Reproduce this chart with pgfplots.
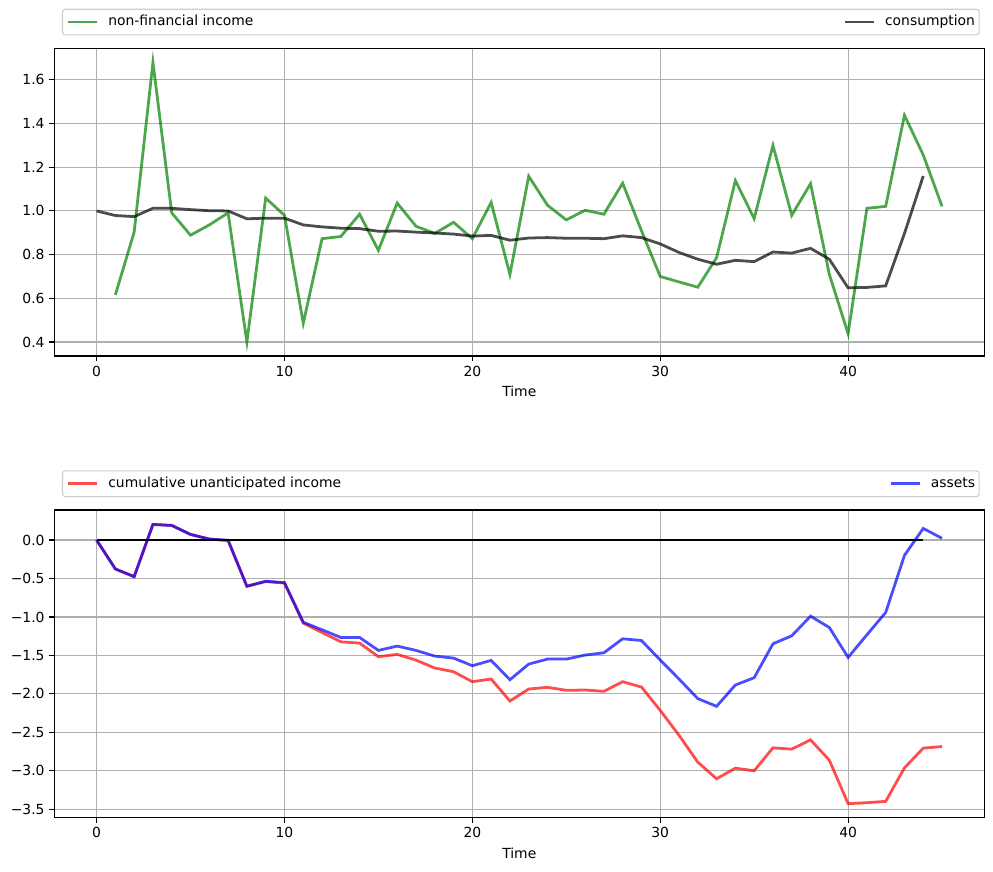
\documentclass[border=0pt]{standalone}
\usepackage{fontspec}
\setmainfont{DejaVu Sans}
\usepackage{pgfplots}
\usepackage{pgfplotstable}
\pgfplotsset{compat=1.18}
\definecolor{gridgray}{HTML}{B0B0B0}
\definecolor{legframe}{HTML}{CCCCCC}
\newlength\wcons
\newlength\wassets

\pgfplotstableread{
t inc
1 0.616
2 0.903
3 1.680
4 0.991
5 0.889
6 0.936
7 0.991
8 0.400
9 1.059
10 0.980
11 0.486
12 0.873
13 0.883
14 0.985
15 0.820
16 1.036
17 0.930
18 0.897
19 0.948
20 0.873
21 1.039
22 0.709
23 1.159
24 1.026
25 0.959
26 1.003
27 0.985
28 1.127
29 0.910
30 0.700
31 0.675
32 0.651
33 0.786
34 1.139
35 0.965
36 1.300
37 0.980
38 1.125
39 0.710
40 0.438
41 1.012
42 1.021
43 1.438
44 1.256
45 1.021
}\incometable

\pgfplotstableread{
t cons
0 1.000
1 0.979
2 0.974
3 1.012
4 1.012
5 1.006
6 1.001
7 1.000
8 0.964
9 0.967
10 0.967
11 0.936
12 0.927
13 0.921
14 0.919
15 0.907
16 0.908
17 0.903
18 0.899
19 0.894
20 0.885
21 0.888
22 0.866
23 0.876
24 0.878
25 0.875
26 0.875
27 0.873
28 0.886
29 0.878
30 0.849
31 0.810
32 0.779
33 0.756
34 0.774
35 0.768
36 0.812
37 0.807
38 0.829
39 0.779
40 0.648
41 0.650
42 0.657
43 0.897
44 1.160
}\constable

\pgfplotstableread{
t cum assets
0 0 0
1 -0.376 -0.376
2 -0.476 -0.476
3 0.203 0.203
4 0.190 0.190
5 0.073 0.073
6 0.013 0.013
7 -0.004 -0.004
8 -0.601 -0.601
9 -0.540 -0.536
10 -0.560 -0.553
11 -1.081 -1.068
12 -1.202 -1.167
13 -1.323 -1.267
14 -1.340 -1.267
15 -1.517 -1.435
16 -1.487 -1.379
17 -1.561 -1.435
18 -1.664 -1.509
19 -1.712 -1.535
20 -1.842 -1.634
21 -1.807 -1.565
22 -2.093 -1.816
23 -1.937 -1.613
24 -1.915 -1.548
25 -1.954 -1.548
26 -1.950 -1.496
27 -1.967 -1.466
28 -1.842 -1.284
29 -1.911 -1.306
30 -2.215 -1.560
31 -2.538 -1.807
32 -2.888 -2.062
33 -3.104 -2.162
34 -2.966 -1.885
35 -3.000 -1.790
36 -2.702 -1.349
37 -2.719 -1.245
38 -2.598 -0.990
39 -2.862 -1.137
40 -3.428 -1.526
41 -3.415 -1.232
42 -3.398 -0.942
43 -2.962 -0.199
44 -2.706 0.151
45 -2.685 0.022
}\bottomtable

\pgfplotstableread{
t z
0 0
44 0
}\zerotable

\pgfplotsset{
  myaxis/.style={
    scale only axis, width=669.6pt, height=221.5pt,
    xmin=-2.25, xmax=47.25,
    xtick={0,10,20,30,40},
    grid=major,
    major grid style={gridgray, line width=0.8pt},
    axis line style={line width=0.8pt},
    tick style={black, line width=0.8pt},
    major tick length=3.5pt,
    tick align=outside, xtick pos=bottom, ytick pos=left,
    tick label style={font=\fontsize{10}{12}\selectfont},
    /pgf/number format/assume math mode=true,
    xlabel={Time},
    label style={font=\fontsize{10}{12}\selectfont},
    legend columns=2,
    legend style={at={(0,1)}, anchor=south west, xshift=5.5pt, yshift=9.3pt,
      draw=legframe, line width=0.8pt, rounded corners=2pt,
      inner xsep=3pt, inner ysep=4pt,
      font=\fontsize{10}{12}\selectfont,
      nodes={inner sep=0pt, text height=8pt, text depth=2.5pt},
      /tikz/every odd column/.append style={column sep=7pt}},
    legend image code/.code={\draw[#1, line width=2pt] (0pt,0pt) -- (21pt,0pt);},
  }
}

\begin{document}
\settowidth{\wcons}{\fontsize{10}{12}\selectfont consumption}%
\settowidth{\wassets}{\fontsize{10}{12}\selectfont assets}%
\begin{tikzpicture}
\useasboundingbox (0,0) rectangle (714.96pt,627.84pt);
\begin{axis}[myaxis, at={(39.1pt,371.5pt)}, anchor=south west,
  ymin=0.336, ymax=1.744,
  ytick={0.4,0.6,0.8,1.0,1.2,1.4,1.6},
  yticklabels={0.4,0.6,0.8,1.0,1.2,1.4,1.6}]
\addplot[green!50!black, opacity=0.7, line width=2pt] table[x=t, y=inc] {\incometable};
\addlegendentry{\makebox[\dimexpr 594pt-\wcons\relax][l]{non-financial income}}
\addplot[black, opacity=0.7, line width=2pt] table[x=t, y=cons] {\constable};
\addlegendentry{consumption}
\end{axis}
\begin{axis}[myaxis, at={(39.1pt,39.1pt)}, anchor=south west,
  ymin=-3.61, ymax=0.39,
  ytick={-3.5,-3.0,-2.5,-2.0,-1.5,-1.0,-0.5,0.0},
  yticklabels={−3.5,−3.0,−2.5,−2.0,−1.5,−1.0,−0.5,0.0}]
\addplot[red, opacity=0.7, line width=2pt] table[x=t, y=cum] {\bottomtable};
\addlegendentry{\makebox[\dimexpr 594pt-\wassets\relax][l]{cumulative unanticipated income}}
\addplot[blue, opacity=0.7, line width=2pt] table[x=t, y=assets] {\bottomtable};
\addlegendentry{assets}
\addplot[black, line width=1.5pt, forget plot] table[x=t, y=z] {\zerotable};
\end{axis}
\end{tikzpicture}
\end{document}
